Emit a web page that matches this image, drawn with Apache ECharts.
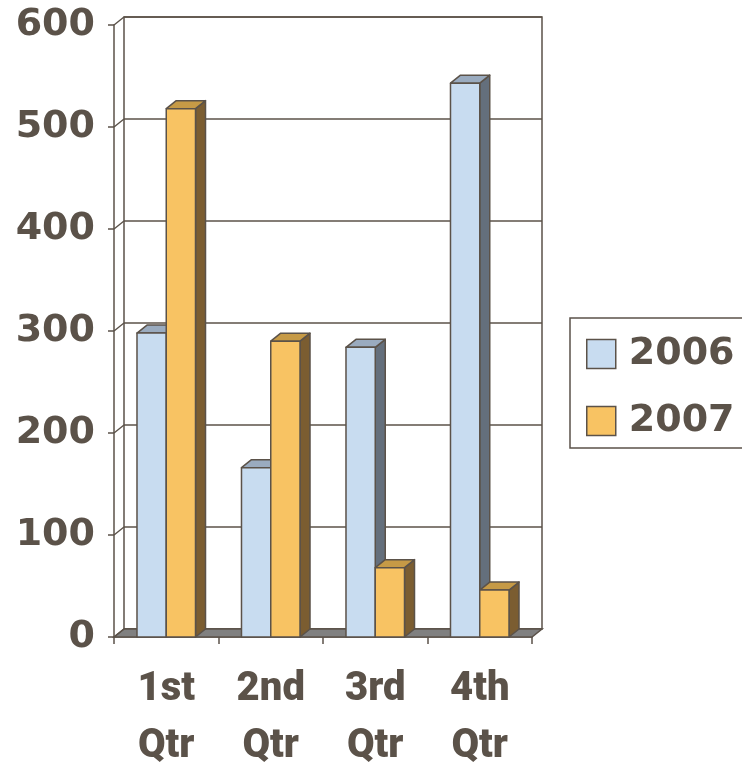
<!DOCTYPE html>
<html>
<head>
<meta charset="utf-8">
<script src="https://cdn.jsdelivr.net/npm/echarts@6/dist/echarts.min.js"></script>
<style>
  html, body { margin: 0; padding: 0; background: #fff; }
  #chart { width: 742px; height: 764px; }
</style>
</head>
<body>
<div id="chart"></div>
<script>
// Quarterly figures, 2006 vs 2007
var categories = ['1st Qtr', '2nd Qtr', '3rd Qtr', '4th Qtr'];
var seriesNames = ['2006', '2007'];
var values2006 = [298, 166, 284, 543];
var values2007 = [518, 290, 68, 46];
var yTicks = [0, 100, 200, 300, 400, 500, 600];

var INK = '#5b5249';
var DEPTH_X = 10, DEPTH_Y = 8;
var BAR_FRAC = 0.28;

var palette = [
  { front: '#c8dcf0', top: '#9aabbf', side: '#646f7c' },
  { front: '#f8c363', top: '#c69a46', side: '#7b5d31' }
];

var chart = echarts.init(document.getElementById('chart'));

// One 3D-looking column: front face, top face and right side face
function barRenderer(seriesIdx) {
  var pal = palette[seriesIdx];
  return function (params, api) {
    var idx = api.value(0);
    var val = api.value(1);
    var base = api.coord([idx, 0]);
    var top = api.coord([idx, val]);
    var band = api.size([1, 0])[0];
    var w = band * BAR_FRAC;
    var x0 = seriesIdx === 0 ? base[0] - w : base[0];
    var x1 = x0 + w;
    var ty = top[1], by = base[1];
    var st = { stroke: INK, lineWidth: 1.5, lineJoin: 'round' };
    return {
      type: 'group',
      children: [
        { type: 'polygon', shape: { points: [[x1, ty], [x1 + DEPTH_X, ty - DEPTH_Y], [x1 + DEPTH_X, by - DEPTH_Y], [x1, by]] },
          style: Object.assign({ fill: pal.side }, st) },
        { type: 'polygon', shape: { points: [[x0, ty], [x1, ty], [x1 + DEPTH_X, ty - DEPTH_Y], [x0 + DEPTH_X, ty - DEPTH_Y]] },
          style: Object.assign({ fill: pal.top }, st) },
        { type: 'rect', shape: { x: x0, y: ty, width: w, height: by - ty },
          style: Object.assign({ fill: pal.front }, st) }
      ]
    };
  };
}

var option = {
  backgroundColor: '#ffffff',
  animation: false,
  grid: [
    // front plane: axes, labels, bars
    { left: 114, top: 25, width: 418, height: 612, outerBoundsMode: 'none', containLabel: false },
    // back wall: gridlines and frame
    { left: 124, top: 17, width: 418, height: 612, outerBoundsMode: 'none', containLabel: false,
      show: true, borderColor: INK, borderWidth: 1.5, backgroundColor: 'transparent' }
  ],
  xAxis: [
    {
      gridIndex: 0, type: 'category', data: categories,
      axisLine: { show: true, lineStyle: { color: INK, width: 1.5 } },
      axisTick: { show: true, length: 7, lineStyle: { color: INK, width: 1.5 } },
      axisLabel: {
        color: INK, fontFamily: 'Roboto', fontWeight: 900, fontSize: 40,
        lineHeight: 57, margin: 24, interval: 0,
        formatter: function (v) { return v.replace(' ', '\n'); }
      }
    },
    { gridIndex: 1, type: 'category', data: categories, show: false }
  ],
  yAxis: [
    {
      gridIndex: 0, type: 'value', min: 0, max: 600, interval: 100,
      axisLine: { show: true, lineStyle: { color: INK, width: 1.5 } },
      axisTick: { show: true, length: 6, lineStyle: { color: INK, width: 1.5 } },
      splitLine: { show: false },
      axisLabel: {
        color: INK, fontFamily: 'DejaVu Sans', fontWeight: 'bold', fontSize: 38, margin: 19,
        formatter: function (v) { return yTicks.indexOf(v) >= 0 ? String(v) : ''; }
      }
    },
    {
      gridIndex: 1, type: 'value', min: 0, max: 600, interval: 100,
      axisLine: { show: false }, axisTick: { show: false }, axisLabel: { show: false },
      splitLine: { show: true, lineStyle: { color: INK, width: 1.5 } }
    }
  ],
  legend: {
    data: seriesNames,
    orient: 'vertical',
    left: 570, top: 318,
    padding: [17, 40, 8, 16],
    itemGap: 29,
    itemWidth: 29, itemHeight: 29,
    icon: 'rect',
    borderColor: INK, borderWidth: 1.5,
    itemStyle: { borderColor: INK, borderWidth: 1.5 },
    textStyle: { color: INK, fontFamily: 'DejaVu Sans', fontWeight: 'bold', fontSize: 38, padding: [0, 0, 0, 8] }
  },
  series: [
    // floor slab under the columns
    {
      type: 'custom', xAxisIndex: 0, yAxisIndex: 0, silent: true, z: 1,
      data: [[0, 0]],
      renderItem: function (params, api) {
        var cs = params.coordSys;
        var y = cs.y + cs.height;
        return {
          type: 'polygon',
          shape: { points: [[cs.x, y], [cs.x + cs.width, y], [cs.x + cs.width + DEPTH_X, y - DEPTH_Y], [cs.x + DEPTH_X, y - DEPTH_Y]] },
          style: { fill: '#808080', stroke: INK, lineWidth: 1.5 }
        };
      }
    },
    // slanted connectors from the front axis ticks to the back wall
    {
      type: 'custom', xAxisIndex: 0, yAxisIndex: 0, silent: true, z: 1,
      data: yTicks.map(function (t) { return [0, t]; }),
      renderItem: function (params, api) {
        var cs = params.coordSys;
        var y = api.coord([0, api.value(1)])[1];
        return {
          type: 'line',
          shape: { x1: cs.x, y1: y, x2: cs.x + DEPTH_X, y2: y - DEPTH_Y },
          style: { stroke: INK, lineWidth: 1.5 }
        };
      }
    },
    {
      name: seriesNames[0], type: 'custom', xAxisIndex: 0, yAxisIndex: 0, z: 3,
      itemStyle: { color: palette[0].front, borderColor: INK, borderWidth: 1.5 },
      data: values2006.map(function (v, i) { return [i, v]; }),
      renderItem: barRenderer(0)
    },
    {
      name: seriesNames[1], type: 'custom', xAxisIndex: 0, yAxisIndex: 0, z: 4,
      itemStyle: { color: palette[1].front, borderColor: INK, borderWidth: 1.5 },
      data: values2007.map(function (v, i) { return [i, v]; }),
      renderItem: barRenderer(1)
    }
  ]
};

chart.setOption(option);
</script>
</body>
</html>
